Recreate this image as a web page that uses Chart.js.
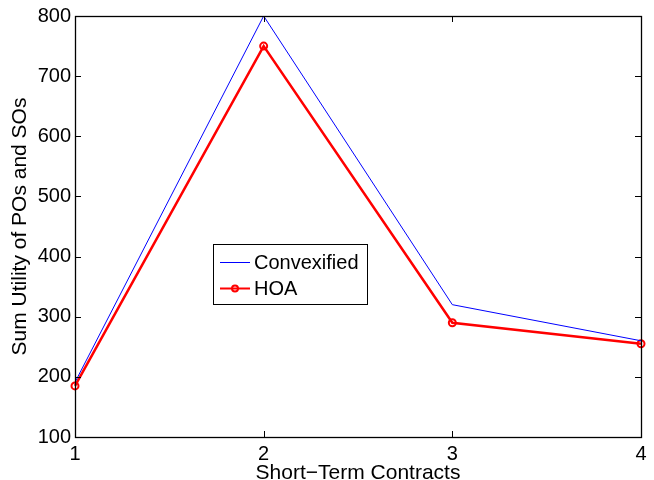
<!DOCTYPE html>
<html>
<head>
<meta charset="utf-8">
<script src="https://cdn.jsdelivr.net/npm/chart.js@4.4.1/dist/chart.umd.min.js"></script>
<style>
  html, body { margin: 0; padding: 0; background: #fff; }
  #wrap { width: 654px; height: 480px; }
</style>
</head>
<body>
<div id="wrap"><canvas id="c"></canvas></div>
<script>
// data
const contracts = ['1', '2', '3', '4'];
const convexified = [191, 800, 320, 260];
const hoa = [185, 750, 290, 255];
const yTicks = [100, 200, 300, 400, 500, 600, 700, 800];

Chart.defaults.font.family = "'Liberation Sans', Arial, sans-serif";
Chart.defaults.color = '#000';

// MATLAB-like frame: full box with inward ticks, plus the boxed legend
const framePlugin = {
    id: 'frame',
    afterDraw(chart) {
        const ctx = chart.ctx;
        const a = chart.chartArea;
        const xs = chart.scales.x, ys = chart.scales.y;
        ctx.save();
        ctx.strokeStyle = '#000';
        ctx.lineWidth = 1.3;
        ctx.strokeRect(a.left + 0.5, a.top + 0.5, a.right - a.left, a.bottom - a.top);
        const t = 6;
        ctx.lineWidth = 1;
        ctx.beginPath();
        contracts.forEach((c, i) => {
            const px = Math.round(xs.getPixelForValue(i)) + 0.5;
            ctx.moveTo(px, a.bottom); ctx.lineTo(px, a.bottom - t);
            ctx.moveTo(px, a.top); ctx.lineTo(px, a.top + t);
        });
        yTicks.forEach(v => {
            const py = Math.round(ys.getPixelForValue(v)) + 0.5;
            ctx.moveTo(a.left, py); ctx.lineTo(a.left + t, py);
            ctx.moveTo(a.right, py); ctx.lineTo(a.right - t, py);
        });
        ctx.stroke();

        // legend box
        const w = a.right - a.left, h = a.bottom - a.top;
        const bx = Math.round(a.left + w * 0.244), by = Math.round(a.top + h * 0.541);
        const bw = 154, bh = 60;
        ctx.fillStyle = '#fff';
        ctx.fillRect(bx, by, bw, bh);
        ctx.strokeRect(bx + 0.5, by + 0.5, bw, bh);
        ctx.font = "20px 'Liberation Sans', Arial, sans-serif";
        ctx.textBaseline = 'middle';
        ctx.fillStyle = '#000';
        const rows = [
            { label: 'Convexified', color: '#0000ff', width: 1, marker: false },
            { label: 'HOA', color: '#ff0000', width: 2, marker: true }
        ];
        rows.forEach((r, i) => {
            const ly = by + 18 + i * 26;
            ctx.strokeStyle = r.color;
            ctx.lineWidth = r.width;
            ctx.beginPath();
            ctx.moveTo(bx + 7, ly + 0.5); ctx.lineTo(bx + 37, ly + 0.5);
            ctx.stroke();
            if (r.marker) {
                ctx.beginPath();
                ctx.arc(bx + 22, ly + 0.5, 3, 0, Math.PI * 2);
                ctx.stroke();
            }
            ctx.fillText(r.label, bx + 41, ly + 1);
        });
        ctx.restore();
    }
};

new Chart(document.getElementById('c').getContext('2d'), {
    type: 'line',
    data: {
        labels: contracts,
        datasets: [
            {
                label: 'Convexified',
                data: convexified,
                borderColor: '#0000ff',
                borderWidth: 1,
                pointRadius: 0,
                tension: 0
            },
            {
                label: 'HOA',
                data: hoa,
                borderColor: '#ff0000',
                borderWidth: 2.5,
                pointRadius: 3.5,
                pointBorderWidth: 2,
                pointBackgroundColor: 'rgba(255,255,255,0)',
                pointBorderColor: '#ff0000',
                tension: 0
            }
        ]
    },
    options: {
        responsive: true,
        maintainAspectRatio: false,
        animation: false,
        layout: { padding: { top: 14, right: 13, left: 0, bottom: 0 } },
        plugins: {
            legend: { display: false },
            tooltip: { enabled: false }
        },
        scales: {
            x: {
                offset: false,
                grid: { display: false, drawTicks: false },
                border: { display: false },
                ticks: { font: { size: 20, lineHeight: 1 }, padding: 7, maxRotation: 0 },
                title: { display: true, text: 'Short\u2212Term Contracts', font: { size: 21, lineHeight: 1 }, padding: { top: 0, bottom: -4 } },
                afterFit(s) { s.height = 43; }
            },
            y: {
                min: 100,
                max: 800,
                grid: { display: false, drawTicks: false },
                border: { display: false },
                afterBuildTicks(s) { s.ticks = yTicks.map(v => ({ value: v })); },
                ticks: { font: { size: 20 }, padding: 4 },
                title: { display: true, text: 'Sum Utility of POs and SOs', font: { size: 21 }, padding: { top: 8, bottom: 0 } },
                afterFit(s) { s.width = 75; }
            }
        }
    },
    plugins: [framePlugin]
});
</script>
</body>
</html>
